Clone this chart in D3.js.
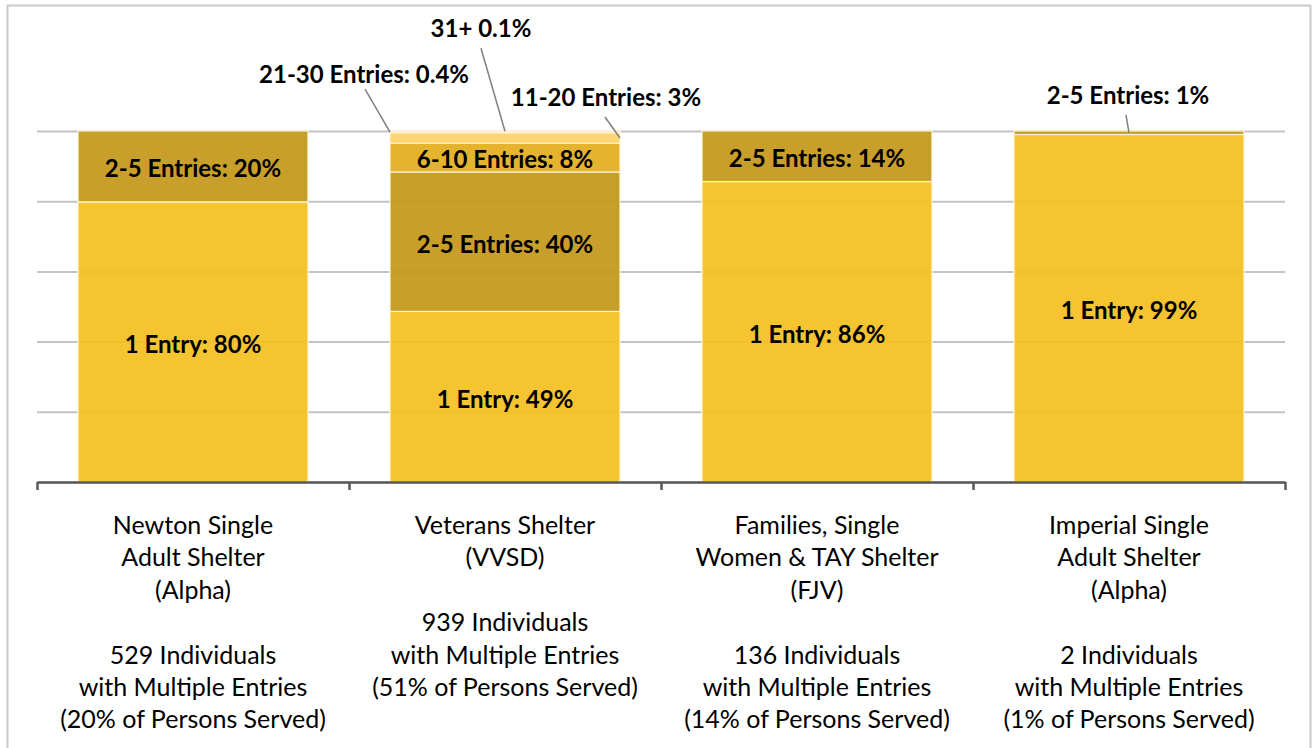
<!DOCTYPE html>
<html>
<head>
<meta charset="utf-8">
<script src="https://cdn.jsdelivr.net/npm/d3@7"></script>
<style>
	body { margin: 0; background: #fff; }
	svg { display: block; }
</style>
</head>
<body>
<div id="chart"></div>
<script>
// categories and their multi-line axis labels
var categories = ['Newton', 'Veterans', 'Families', 'Imperial'];
var categoryLines = [
	['Newton Single', 'Adult Shelter', '(Alpha)', '', '529 Individuals', 'with Multiple Entries', '(20% of Persons Served)'],
	['Veterans Shelter', '(VVSD)', '', '939 Individuals', 'with Multiple Entries', '(51% of Persons Served)'],
	['Families, Single', 'Women & TAY Shelter', '(FJV)', '', '136 Individuals', 'with Multiple Entries', '(14% of Persons Served)'],
	['Imperial Single', 'Adult Shelter', '(Alpha)', '', '2 Individuals', 'with Multiple Entries', '(1% of Persons Served)']
];

// series (stack order bottom -> top)
var series = ['1 Entry', '2-5 Entries', '6-10 Entries', '11-20 Entries', '21-30 Entries', '31+'];
var seriesPrefix = ['1 Entry: ', '2-5 Entries: ', '6-10 Entries: ', '11-20 Entries: ', '21-30 Entries: ', '31+ '];

// percent of individuals, per category
var oneEntry = [79.8, 48.6, 85.6, 99.0];
var twoToFive = [20.2, 39.7, 14.4, 1.0];
var sixToTen = [0, 8.2, 0, 0];
var elevenToTwenty = [0, 3.0, 0, 0];
var twentyOneToThirty = [0, 0.4, 0, 0];
var thirtyOnePlus = [0, 0.1, 0, 0];

var yTicks = [0, 20, 40, 60, 80, 100];

var params = {
	width: 1315,
	height: 748,
	margin: {top: 131, right: 30, bottom: 266, left: 37},
	colors: ['#F3BF1F', '#C39718', '#E2AE1D', '#FFD266', '#FFE09A', '#FFEFCF'],
	barOpacity: 0.92,
	font: 'Lato, sans-serif'
};

var table = categories.map(function(c, i){
	return {
		category: c,
		'1 Entry': oneEntry[i],
		'2-5 Entries': twoToFive[i],
		'6-10 Entries': sixToTen[i],
		'11-20 Entries': elevenToTwenty[i],
		'21-30 Entries': twentyOneToThirty[i],
		'31+': thirtyOnePlus[i]
	};
});

// labels drawn outside the bar with a leader line (offsets from the anchor on the segment)
var callouts = [
	{category: 'Veterans', key: '21-30 Entries', fx: 0, lineDx: -25, lineDy: -43, textDx: -26, textDy: -49},
	{category: 'Veterans', key: '31+', fx: 0.5, lineDx: -24, lineDy: -83, textDx: -24, textDy: -94},
	{category: 'Veterans', key: '11-20 Entries', fx: 1, lineDx: -15, lineDy: -21, textDx: -14, textDy: -32},
	{category: 'Imperial', key: '2-5 Entries', fx: 0.5, lineDx: -3, lineDy: -18, textDx: -1, textDy: -29}
];

function fmt(v){
	return v >= 1 ? Math.round(v) + '%' : v.toFixed(1) + '%';
}

var innerW = params.width - params.margin.left - params.margin.right;
var innerH = params.height - params.margin.top - params.margin.bottom;

var svg = d3.select('#chart').append('svg')
	.attr('width', params.width)
	.attr('height', params.height);

// chart frame
svg.append('rect')
	.attr('x', 7.5).attr('y', 5.5)
	.attr('width', 1303).attr('height', 760)
	.attr('fill', 'none')
	.attr('stroke', '#c9c9c9')
	.attr('stroke-width', 2);

var g = svg.append('g')
	.attr('transform', 'translate(' + params.margin.left + ',' + params.margin.top + ')');

var x = d3.scaleBand()
	.domain(categories)
	.range([0, innerW])
	.paddingInner(0.263)
	.paddingOuter(0.1315);

var y = d3.scaleLinear()
	.domain([0, 100])
	.range([innerH, 0]);

// gridlines
g.append('g')
	.attr('class', 'grid')
	.call(d3.axisLeft(y).tickValues(yTicks).tickSize(-innerW).tickFormat(''))
	.call(function(s){
		s.select('.domain').remove();
		s.selectAll('line').attr('stroke', '#c4c4c4').attr('stroke-width', 2);
	});

var stacked = d3.stack().keys(series)(table);
var color = d3.scaleOrdinal().domain(series).range(params.colors);

var layers = g.selectAll('.layer')
	.data(stacked).enter()
	.append('g')
		.attr('class', 'layer')
		.attr('fill', function(d){ return color(d.key); });

layers.selectAll('rect')
	.data(function(d){ return d.filter(function(p){ return p[1] - p[0] > 0; }); })
	.enter().append('rect')
		.attr('x', function(d){ return x(d.data.category); })
		.attr('y', function(d){ return y(d[1]); })
		.attr('width', x.bandwidth())
		.attr('height', function(d){ return y(d[0]) - y(d[1]); })
		.attr('fill-opacity', params.barOpacity)
		.attr('stroke', '#fff3d6')
		.attr('stroke-width', 1.2);

// in-bar labels
var isCallout = function(cat, key){
	return callouts.some(function(c){ return c.category == cat && c.key == key; });
};
stacked.forEach(function(layer, si){
	layer.forEach(function(p){
		var v = p[1] - p[0];
		if (v <= 0 || isCallout(p.data.category, layer.key)) return;
		g.append('text')
			.attr('x', x(p.data.category) + x.bandwidth() / 2)
			.attr('y', y((p[0] + p[1]) / 2))
			.attr('dy', '0.45em')
			.attr('text-anchor', 'middle')
			.style('font-family', params.font)
			.style('font-weight', 'bold')
			.style('font-size', '24px')
			.attr('fill', '#000')
			.text(seriesPrefix[si] + fmt(v));
	});
});

// callout labels with leader lines
callouts.forEach(function(c){
	var si = series.indexOf(c.key);
	var p = stacked[si][categories.indexOf(c.category)];
	var ax = x(c.category) + c.fx * x.bandwidth();
	var ay = y((p[0] + p[1]) / 2);
	g.append('line')
		.attr('x1', ax).attr('y1', ay)
		.attr('x2', ax + c.lineDx).attr('y2', ay + c.lineDy)
		.attr('stroke', '#7f7f7f')
		.attr('stroke-width', 1.5);
	g.append('text')
		.attr('x', ax + c.textDx)
		.attr('y', ay + c.textDy)
		.attr('text-anchor', 'middle')
		.style('font-family', params.font)
		.style('font-weight', 'bold')
		.style('font-size', '24px')
		.attr('fill', '#000')
		.text(seriesPrefix[si] + fmt(p[1] - p[0]));
});

// bottom axis with ticks at band boundaries
var xBound = d3.scaleLinear().domain([0, categories.length]).range([0, innerW]);
g.append('g')
	.attr('transform', 'translate(0,' + innerH + ')')
	.call(d3.axisBottom(xBound).tickValues(d3.range(categories.length + 1)).tickSize(8).tickSizeOuter(0).tickFormat(''))
	.call(function(s){
		s.selectAll('path, line').attr('stroke', '#595959').attr('stroke-width', 2.5);
	});

// category labels
categoryLines.forEach(function(lines, i){
	var cx = x(categories[i]) + x.bandwidth() / 2;
	var t = g.append('text')
		.attr('text-anchor', 'middle')
		.style('font-family', params.font)
		.style('font-size', '25px')
		.attr('fill', '#000');
	lines.forEach(function(line, j){
		t.append('tspan')
			.attr('x', cx)
			.attr('y', innerH + 52 + j * 32.4)
			.text(line == '' ? '\u00a0' : line);
	});
});
</script>
</body>
</html>
